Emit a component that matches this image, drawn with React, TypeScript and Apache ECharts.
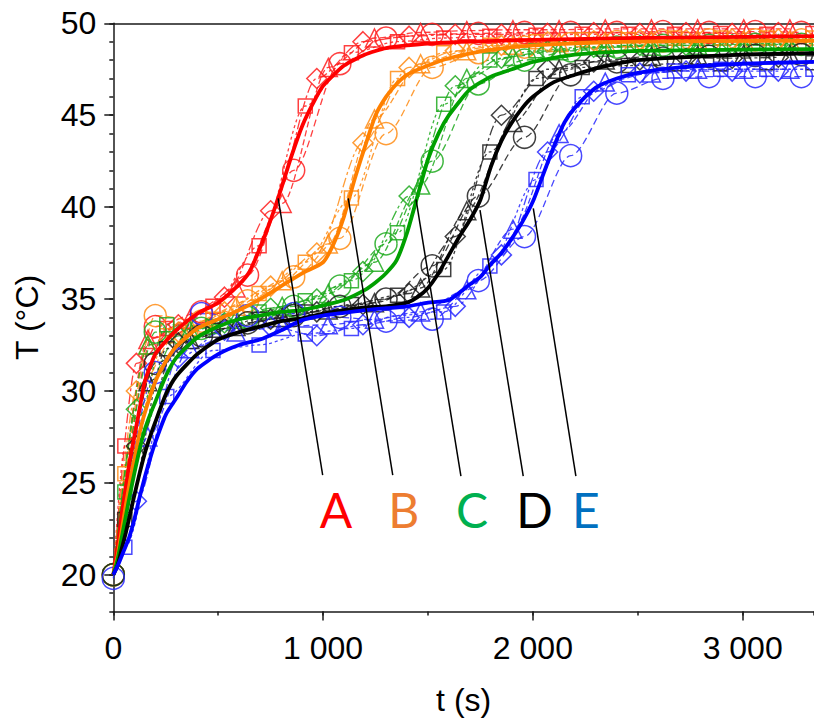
import React, { useEffect, useRef } from "react";
import * as echarts from "echarts";

// ---- axis ranges / ticks ----
const X_MAX = 3340;
const Y_MIN = 18;
const Y_MAX = 50;

// ---- fitted (thick) curves ----
const tRed = [0, 20, 40, 60, 80, 100, 125, 150, 200, 250, 300, 400, 500, 600, 650, 700, 750, 800, 850, 900, 950, 1000, 1100, 1200, 1300, 1500, 2000, 2500, 3340];
const TRed = [20, 21.5, 23.3, 24.8, 26.3, 27.5, 29, 30.5, 32.0, 32.7, 33.3, 34.2, 34.8, 35.8, 36.5, 37.8, 39.3, 41.0, 42.8, 44.4, 45.6, 46.6, 47.7, 48.3, 48.65, 48.9, 49.1, 49.2, 49.3];

const tOrange = [0, 20, 40, 60, 80, 100, 125, 150, 200, 250, 300, 400, 500, 600, 700, 800, 900, 1000, 1050, 1100, 1150, 1200, 1250, 1300, 1350, 1400, 1500, 1600, 1800, 2000, 2500, 3340];
const TOrange = [20, 21.0, 22.4, 23.8, 25.1, 26.3, 27.7, 28.8, 30.5, 31.6, 32.4, 33.4, 33.9, 34.4, 35.0, 35.7, 36.4, 37.0, 38.0, 39.5, 41.5, 43.3, 45.0, 46.0, 46.7, 47.2, 47.7, 48.1, 48.55, 48.8, 49.0, 49.05];

const tGreen = [0, 20, 40, 60, 80, 100, 125, 150, 175, 200, 250, 300, 400, 500, 600, 700, 800, 900, 1000, 1100, 1200, 1250, 1300, 1350, 1400, 1450, 1500, 1550, 1600, 1700, 1800, 1900, 2000, 2200, 2500, 3340];
const TGreen = [20, 20.8, 22.0, 23.2, 24.4, 25.5, 26.8, 27.9, 28.7, 29.4, 30.8, 31.8, 32.9, 33.5, 33.9, 34.1, 34.3, 34.4, 34.65, 34.95, 35.5, 35.9, 36.4, 37.1, 38.6, 40.6, 42.6, 44.0, 45.0, 46.4, 47.1, 47.5, 47.9, 48.3, 48.5, 48.6];

const tBlack = [0, 20, 40, 60, 80, 100, 125, 150, 175, 200, 250, 300, 400, 500, 600, 700, 800, 900, 1000, 1100, 1200, 1300, 1400, 1450, 1500, 1550, 1600, 1650, 1700, 1750, 1800, 1850, 1900, 1950, 2000, 2100, 2200, 2300, 2500, 3000, 3340];
const TBlack = [20, 20.5, 21.4, 22.3, 23.3, 24.3, 25.5, 26.6, 27.5, 28.3, 29.8, 30.8, 32.0, 32.8, 33.2, 33.5, 33.8, 33.95, 34.2, 34.4, 34.55, 34.6, 34.8, 35.1, 35.6, 36.4, 37.4, 38.4, 39.3, 40.4, 42.2, 43.6, 44.6, 45.4, 46.0, 46.8, 47.2, 47.55, 48.0, 48.3, 48.37];

const tBlue = [0, 25, 50, 75, 100, 125, 150, 175, 200, 250, 300, 350, 400, 500, 600, 700, 800, 900, 1000, 1100, 1200, 1300, 1400, 1500, 1600, 1700, 1750, 1800, 1850, 1900, 1950, 2000, 2050, 2100, 2150, 2200, 2300, 2400, 2500, 2700, 3000, 3340];
const TBlue = [20, 20.6, 21.3, 22.0, 23.0, 24.2, 25.3, 26.3, 27.2, 28.7, 29.6, 30.5, 31.2, 32.0, 32.5, 32.8, 33.3, 33.85, 34.1, 34.25, 34.4, 34.5, 34.6, 34.8, 34.95, 35.8, 36.2, 36.9, 37.5, 38.3, 39.2, 40.3, 41.8, 43.3, 44.6, 45.4, 46.5, 47.0, 47.3, 47.6, 47.8, 47.9];

// ---- measured replicates (marker times) ----
const startPoint = [0, 20];
const tCircle = [0, 200, 420, 640, 860, 1080, 1300, 1520, 1740, 1960, 2180, 2400, 2620, 2840, 3060, 3280];
const tSquare = [55, 255, 475, 695, 915, 1135, 1355, 1575, 1795, 2015, 2235, 2455, 2675, 2895, 3115, 3335];
const tDiamond = [110, 310, 530, 750, 970, 1190, 1410, 1630, 1850, 2070, 2290, 2510, 2730, 2950, 3170];
const tTriangle = [165, 365, 585, 805, 1025, 1245, 1465, 1685, 1905, 2125, 2345, 2565, 2785, 3005, 3225];

const redCircle = [20, 33.5, 34.3, 36.3, 42.0, 47.8, 49.2, 49.4, 49.45, 49.5, 49.5, 49.5, 49.55, 49.5, 49.55, 49.5];
const redSquare = [27.0, 33.4, 34.6, 37.9, 45.5, 48.4, 49.0, 49.2, 49.3, 49.35, 49.4, 49.4, 49.4, 49.45, 49.4, 49.45];
const redDiamond = [31.5, 33.6, 35.1, 39.8, 47.0, 49.0, 49.3, 49.4, 49.4, 49.45, 49.5, 49.45, 49.5, 49.45, 49.5];
const redTriangle = [32.8, 33.9, 35.6, 40.2, 47.6, 49.2, 49.5, 49.6, 49.65, 49.65, 49.7, 49.7, 49.7, 49.7, 49.7];

const orangeCircle = [20, 34.1, 33.8, 34.9, 36.2, 38.3, 44.0, 47.6, 48.4, 48.7, 48.9, 49.0, 49.05, 49.1, 49.1, 49.1];
const orangeSquare = [25.5, 33.0, 33.9, 35.3, 37.0, 40.5, 47.0, 48.4, 48.8, 49.0, 49.1, 49.1, 49.2, 49.2, 49.2, 49.2];
const orangeDiamond = [30.0, 33.2, 34.3, 35.7, 37.5, 43.5, 47.6, 48.5, 48.8, 49.0, 49.05, 49.1, 49.1, 49.15, 49.15];
const orangeTriangle = [32.5, 33.5, 34.6, 36.0, 38.0, 44.8, 47.8, 48.5, 48.8, 48.95, 49.0, 49.05, 49.1, 49.1, 49.1];

const greenCircle = [20, 33.2, 33.4, 34.0, 34.6, 35.7, 38.0, 42.5, 46.7, 48.0, 48.5, 48.7, 48.8, 48.8, 48.85, 48.85];
const greenSquare = [24.5, 33.6, 33.5, 34.3, 34.9, 36.0, 38.6, 45.6, 48.0, 48.5, 48.7, 48.8, 48.9, 48.9, 48.9, 48.9];
const greenDiamond = [29.0, 33.0, 33.7, 34.5, 35.0, 36.5, 40.6, 46.6, 48.1, 48.5, 48.7, 48.8, 48.8, 48.85, 48.85];
const greenTriangle = [32.5, 33.3, 33.9, 34.6, 35.3, 37.0, 41.2, 47.0, 48.2, 48.5, 48.7, 48.75, 48.8, 48.8, 48.8];

const blackCircle = [20, 31.5, 33.0, 33.7, 34.1, 34.6, 35.0, 36.8, 40.6, 43.8, 47.2, 47.9, 48.1, 48.2, 48.25, 48.3];
const blackSquare = [23.0, 32.3, 33.3, 33.9, 34.3, 34.7, 35.2, 36.6, 43.0, 47.0, 47.6, 47.7, 47.8, 47.8, 47.85, 47.85];
const blackDiamond = [27.0, 32.6, 33.4, 33.9, 34.3, 34.7, 35.3, 38.4, 45.0, 47.5, 47.9, 48.0, 48.1, 48.1, 48.15];
const blackTriangle = [30.5, 32.8, 33.5, 34.0, 34.4, 34.8, 35.6, 39.8, 44.6, 47.5, 48.0, 48.2, 48.25, 48.3, 48.3];

const blueCircle = [19.8, 31.0, 34.2, 34.1, 34.2, 34.0, 33.8, 33.9, 36.0, 38.4, 42.8, 46.2, 47.0, 47.1, 47.1, 47.1];
const blueSquare = [21.5, 29.7, 32.2, 32.5, 33.1, 33.4, 34.1, 34.3, 36.8, 41.5, 46.0, 47.2, 47.4, 47.5, 47.5, 47.5];
const blueDiamond = [24.0, 31.8, 33.3, 33.5, 33.0, 33.6, 34.0, 34.6, 37.4, 43.0, 46.3, 47.3, 47.4, 47.4, 47.4];
const blueTriangle = [27.5, 32.3, 33.2, 33.5, 33.6, 33.9, 34.3, 35.5, 38.8, 44.0, 46.8, 47.3, 47.5, 47.5, 47.5];

// ---- annotations ----
const labelNames = ["A", "B", "C", "D", "E"];
const labelColors = ["#ff0000", "#ed7d31", "#00b050", "#000000", "#0070c0"];
const labelX = [1062, 1385, 1710, 2008, 2253];
const labelY = 23.57;
const leaderTop = [[786, 40.48], [1120, 40.48], [1443, 40.42], [1748, 39.84], [2002, 39.93]];
const leaderBottom = [[998, 25.42], [1332, 25.42], [1657, 25.37], [1954, 25.37], [2205, 25.37]];

const groups = [
  { color: "#ff0000", faint: "rgba(255,30,30,0.85)", t: tRed, T: TRed, reps: { circle: redCircle, square: redSquare, diamond: redDiamond, triangle: redTriangle } },
  { color: "#ff8000", faint: "rgba(255,140,20,0.85)", t: tOrange, T: TOrange, reps: { circle: orangeCircle, square: orangeSquare, diamond: orangeDiamond, triangle: orangeTriangle } },
  { color: "#00a000", faint: "rgba(30,170,30,0.85)", t: tGreen, T: TGreen, reps: { circle: greenCircle, square: greenSquare, diamond: greenDiamond, triangle: greenTriangle } },
  { color: "#000000", faint: "rgba(30,30,30,0.85)", t: tBlack, T: TBlack, reps: { circle: blackCircle, square: blackSquare, diamond: blackDiamond, triangle: blackTriangle } },
  { color: "#0000ff", faint: "rgba(40,40,255,0.85)", t: tBlue, T: TBlue, reps: { circle: blueCircle, square: blueSquare, diamond: blueDiamond, triangle: blueTriangle } },
];

const FONT = "'Liberation Sans', Arial, sans-serif";
const AXIS_COLOR = "#1a1a1a";

const fmtThousands = (v: number) => {
  const s = String(Math.round(v));
  return s.length > 3 ? s.slice(0, s.length - 3) + " " + s.slice(-3) : s;
};

export default function App() {
  const ref = useRef<HTMLDivElement>(null);
  useEffect(() => {
    const chart = echarts.init(ref.current!, null, { renderer: "svg" });
    const pairs = (ts: number[], vs: number[]) => ts.map((t, i) => [t, vs[i]]);
    const shapes = [
      { key: "circle", symbol: "circle", size: 22, times: tCircle, dash: [7, 4], start: false },
      { key: "square", symbol: "rect", size: 14, times: tSquare, dash: [3, 3], start: true },
      { key: "diamond", symbol: "diamond", size: 20, times: tDiamond, dash: [10, 3, 3, 3], start: true },
      { key: "triangle", symbol: "triangle", size: 18, times: tTriangle, dash: [6, 3], start: true },
    ];
    const series: any[] = [];
    groups.forEach((g: any) => {
      shapes.forEach((s) => {
        const data: any[] = pairs(s.times, g.reps[s.key]);
        if (s.start) data.unshift({ value: startPoint, symbol: "none" });
        series.push({
          type: "line",
          data,
          symbol: s.symbol,
          symbolSize: s.size,
          showAllSymbol: true,
          smooth: 0.3,
          smoothMonotone: "x",
          silent: true,
          z: 2,
          lineStyle: { color: g.faint, width: 1.3, type: s.dash },
          itemStyle: { color: "rgba(0,0,0,0)", borderColor: g.faint, borderWidth: 1.5 },
        });
      });
    });
    groups.forEach((g) => {
      series.push({
        type: "line",
        data: pairs(g.t, g.T),
        symbol: "none",
        smooth: 0.2,
        silent: true,
        z: 3,
        lineStyle: { color: g.color, width: 3.8 },
      });
    });
    leaderTop.forEach((p, i) => {
      series.push({
        type: "line",
        data: [p, leaderBottom[i]],
        symbol: "none",
        silent: true,
        z: 5,
        lineStyle: { color: "#000", width: 1.5 },
      });
    });
    series.push({
      type: "scatter",
      silent: true,
      z: 6,
      symbolSize: 1,
      itemStyle: { color: "rgba(0,0,0,0)", opacity: 1 },
      data: labelNames.map((n, i) => ({
        name: n,
        value: [labelX[i], labelY],
        label: { color: labelColors[i] },
      })),
      label: {
        show: true,
        position: "inside",
        formatter: "{b}",
        fontSize: 48,
        opacity: 1,
        textBorderWidth: 0,
        fontFamily: "Lato, 'Noto Sans', sans-serif",
      },
    });

    const tickStyle = { color: AXIS_COLOR, width: 1.5 };
    chart.setOption({
      animation: false,
      backgroundColor: "#ffffff",
      grid: { left: 113.3, right: 0, top: 23.3, bottom: 113.5, containLabel: false },
      xAxis: [
        {
          type: "value", min: 0, max: X_MAX, interval: 1000, position: "bottom",
          axisLine: { show: true, onZero: false, lineStyle: tickStyle },
          axisTick: { show: true, length: 9, lineStyle: tickStyle },
          axisLabel: { formatter: fmtThousands, fontSize: 32, color: "#000", fontFamily: FONT, margin: 20, showMaxLabel: false },
          splitLine: { show: false },
          name: "t (s)", nameLocation: "middle", nameGap: 72,
          nameTextStyle: { fontSize: 32, color: "#000", fontFamily: FONT },
        },
        {
          type: "value", min: 0, max: X_MAX, interval: 500, position: "bottom",
          axisLine: { show: false, onZero: false },
          axisTick: { show: true, length: 4, lineStyle: tickStyle },
          axisLabel: { show: false }, splitLine: { show: false },
        },
        {
          type: "value", min: 0, max: X_MAX, position: "top",
          axisLine: { show: true, onZero: false, lineStyle: tickStyle },
          axisTick: { show: false }, axisLabel: { show: false }, splitLine: { show: false },
        },
      ],
      yAxis: [
        {
          type: "value", min: Y_MIN, max: Y_MAX, splitNumber: 5, position: "left",
          axisLine: { show: true, onZero: false, lineStyle: tickStyle },
          axisTick: { show: true, length: 9, lineStyle: tickStyle },
          axisLabel: { fontSize: 32, color: "#000", fontFamily: FONT, margin: 17, showMinLabel: false },
          splitLine: { show: false },
          name: "T (°C)", nameLocation: "middle", nameGap: 70, nameRotate: 90,
          nameTextStyle: { fontSize: 32, color: "#000", fontFamily: FONT },
        },
        {
          type: "value", min: Y_MIN, max: Y_MAX, interval: 1, position: "left",
          axisLine: { show: false, onZero: false },
          axisTick: { show: true, length: 4, lineStyle: tickStyle },
          axisLabel: { show: false }, splitLine: { show: false },
        },
      ],
      series,
    });
    return () => chart.dispose();
  }, []);
  return (
    <div
      ref={ref}
      style={{ position: "absolute", left: 0, top: 0, width: 814, height: 725, background: "#fff" }}
    />
  );
}
